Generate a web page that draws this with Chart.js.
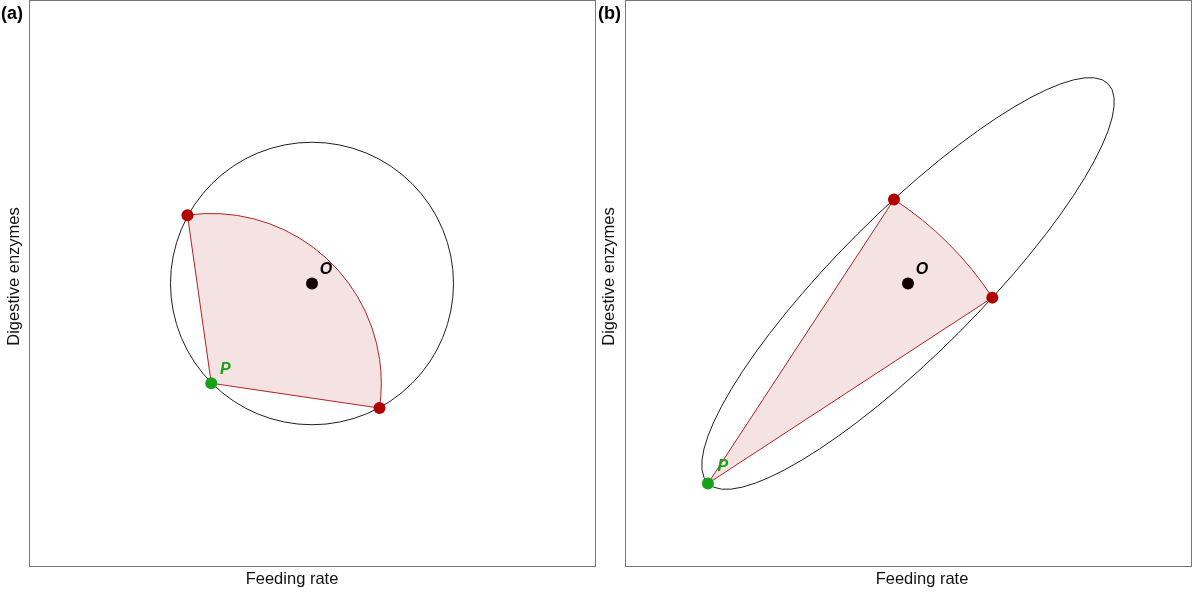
<!DOCTYPE html>
<html lang="en">
<head>
<meta charset="UTF-8">
<title>Feeding rate vs digestive enzymes</title>
<script src="https://cdn.jsdelivr.net/npm/chart.js"></script>
<style>
  body { margin: 0; background: #fff; }
  .panel { position: absolute; top: 0; }
  #panelA { left: 0; }
  #panelB { left: 596px; }
</style>
</head>
<body>
<canvas id="panelA" class="panel" width="596" height="599"></canvas>
<canvas id="panelB" class="panel" width="604" height="599"></canvas>

<script>
// both axes of both panels run over the same range, optimum O in the middle
const axisRange = [-1, 1];

// panel (a): circular set of phenotypes
const shapeCenterA = [0, 0];
const shapeAxesA = [0.5, 0.5];
const shapeAngleA = [0];
const optimumA = [{ x: 0, y: 0 }];
const phenotypeA = [{ x: -0.356, y: -0.353 }];
const sectorEndsA = [{ x: -0.44, y: 0.242 }, { x: 0.2385, y: -0.441 }];

// panel (b): elongated (correlated) set of phenotypes
const shapeCenterB = [0, 0];
const shapeAxesB = [1.0, 0.25];
const shapeAngleB = [45];
const optimumB = [{ x: 0, y: 0 }];
const phenotypeB = [{ x: -0.707, y: -0.708 }];
const sectorEndsB = [{ x: -0.0495, y: 0.2975 }, { x: 0.298, y: -0.05 }];

const xTitle = 'Feeding rate';
const yTitle = 'Digestive enzymes';

// draws the outline shape and the shaded sector around P
const shapesPlugin = {
    id: 'shapes',
    beforeDatasetsDraw(chart, args, opts) {
        const { ctx, scales: { x, y } } = chart;
        const sx = x.getPixelForValue(1) - x.getPixelForValue(0);
        const sy = y.getPixelForValue(0) - y.getPixelForValue(1);

        // circle / ellipse
        ctx.save();
        ctx.translate(x.getPixelForValue(opts.center[0]), y.getPixelForValue(opts.center[1]));
        ctx.scale(sx, -sy);
        ctx.rotate(opts.angle * Math.PI / 180);
        ctx.beginPath();
        ctx.ellipse(0, 0, opts.axes[0], opts.axes[1], 0, 0, 2 * Math.PI);
        ctx.restore();
        ctx.strokeStyle = '#1e1e1e';
        ctx.lineWidth = 1;
        ctx.stroke();

        // sector centred on P
        const p = opts.pivot;
        const [e1, e2] = opts.ends;
        const a1 = Math.atan2(e1.y - p.y, e1.x - p.x);
        const a2 = Math.atan2(e2.y - p.y, e2.x - p.x);
        const r = Math.hypot(e1.x - p.x, e1.y - p.y);
        ctx.save();
        ctx.translate(x.getPixelForValue(p.x), y.getPixelForValue(p.y));
        ctx.scale(sx, -sy);
        ctx.beginPath();
        ctx.moveTo(0, 0);
        ctx.lineTo(e1.x - p.x, e1.y - p.y);
        ctx.arc(0, 0, r, a1, a2, true);
        ctx.closePath();
        ctx.restore();
        ctx.fillStyle = 'rgba(178, 34, 34, 0.13)';
        ctx.fill();
        ctx.strokeStyle = '#b22222';
        ctx.lineWidth = 1;
        ctx.stroke();
    },
    afterDatasetsDraw(chart, args, opts) {
        const { ctx, scales: { x, y } } = chart;
        ctx.save();
        ctx.font = 'italic bold 16px "Liberation Sans", Arial, sans-serif';
        ctx.textAlign = 'center';
        ctx.textBaseline = 'middle';
        opts.labels.forEach(l => {
            ctx.fillStyle = l.color;
            ctx.fillText(l.text, x.getPixelForValue(l.at.x) + l.dx, y.getPixelForValue(l.at.y) + l.dy);
        });
        ctx.restore();
    },
    afterDraw(chart, args, opts) {
        const { ctx, chartArea: a } = chart;
        ctx.save();
        // frame
        ctx.strokeStyle = '#777';
        ctx.lineWidth = 1;
        ctx.strokeRect(a.left + 0.5, a.top - 0.5, a.right - a.left, a.bottom - a.top + 1);
        // axis titles
        ctx.fillStyle = '#111';
        ctx.font = '16.5px "Liberation Sans", Arial, sans-serif';
        ctx.textAlign = 'center';
        ctx.textBaseline = 'middle';
        ctx.fillText(xTitle, (a.left + a.right) / 2 + opts.xTitleShift, 579);
        ctx.save();
        ctx.translate(opts.yTitleX, (a.top + a.bottom) / 2 - 7);
        ctx.rotate(-Math.PI / 2);
        ctx.fillText(yTitle, 0, 0);
        ctx.restore();
        // panel tag
        ctx.fillStyle = '#000';
        ctx.font = 'bold 18px "Liberation Sans", Arial, sans-serif';
        ctx.textAlign = 'left';
        ctx.fillText(opts.tag, opts.tagX, 14);
        ctx.restore();
    }
};

function makePanel(id, d) {
    return new Chart(document.getElementById(id), {
        type: 'scatter',
        data: {
            datasets: [
                { data: d.ends, backgroundColor: '#b00000' },
                { data: d.pivot, backgroundColor: '#16a216' },
                { data: d.optimum, backgroundColor: '#140000' }
            ]
        },
        options: {
            responsive: false,
            animation: false,
            events: [],
            layout: { autoPadding: false, padding: { left: 29, right: d.padRight, top: 1, bottom: 33 } },
            elements: { point: { radius: 6, hoverRadius: 6, borderWidth: 0 } },
            scales: {
                x: { type: 'linear', min: axisRange[0], max: axisRange[1], display: false },
                y: { type: 'linear', min: axisRange[0], max: axisRange[1], display: false }
            },
            plugins: {
                legend: { display: false },
                tooltip: { enabled: false },
                shapes: {
                    center: d.center, axes: d.axes, angle: d.angle[0],
                    pivot: d.pivot[0], ends: d.ends,
                    labels: [
                        { text: 'O', at: d.optimum[0], dx: 14, dy: -14, color: '#000' },
                        { text: 'P', at: d.pivot[0], dx: d.pdx, dy: d.pdy, color: '#16a216' }
                    ],
                    tag: d.tag, tagX: d.tagX,
                    xTitleShift: d.xTitleShift, yTitleX: d.yTitleX
                }
            }
        },
        plugins: [shapesPlugin]
    });
}

makePanel('panelA', {
    center: shapeCenterA, axes: shapeAxesA, angle: shapeAngleA,
    optimum: optimumA, pivot: phenotypeA, ends: sectorEndsA,
    padRight: 1, pdx: 14, pdy: -14, tag: '(a)', tagX: 1,
    xTitleShift: -20, yTitleX: 14
});

makePanel('panelB', {
    center: shapeCenterB, axes: shapeAxesB, angle: shapeAngleB,
    optimum: optimumB, pivot: phenotypeB, ends: sectorEndsB,
    padRight: 9, pdx: 15, pdy: -17, tag: '(b)', tagX: 2,
    xTitleShift: 14, yTitleX: 13
});
</script>
</body>
</html>
